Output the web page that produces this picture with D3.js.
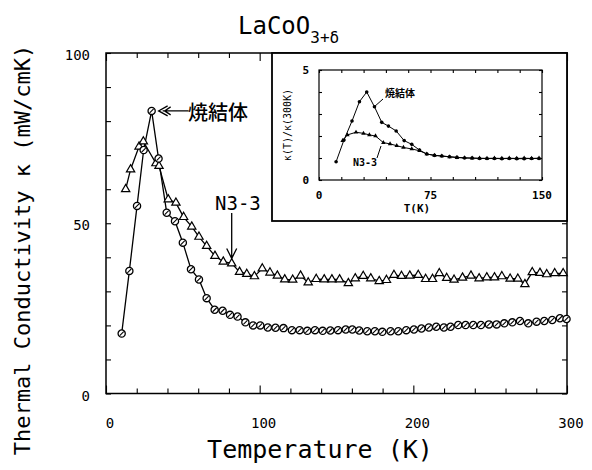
<!DOCTYPE html>
<html><head><meta charset="utf-8">
<script src="https://cdn.jsdelivr.net/npm/d3@7"></script>
<style>body{margin:0;background:#fff}svg{display:block}</style>
</head><body>
<script>
// ---- data ----
const sinterT = [10.2,15.2,20.2,24.5,29.7,34.2,39.5,44.9,50,55.3,60.5,65.5,70.7,75.9,80.7,85.6,90.7,95.7,100.4,105.3,110.3,115.5,121,126,131,136,141,146,151,156,160.3,164.8,170,175,179.8,185.2,190.2,195.4,200.4,205.3,210.1,214.9,219.9,224.2,229.2,234,239,244,249.2,254.2,259.2,264.4,269.4,274.8,280.2,285.2,290.4,295.4,299.7];
const sinterK = [17.6,36,55.1,71.5,83,69,53.1,50.6,44.3,36.5,33.5,28,24.6,24.3,23.1,22.6,20.9,20,20,19.4,19.3,19.2,18.6,18.6,18.4,18.6,18.4,18.5,18.6,18.8,18.8,18.5,18.3,18.3,18.1,18.3,18.3,18.6,18.8,19.1,19.4,19.6,19.4,19.6,20.1,20.1,20.1,20.1,20.3,20.3,20.6,20.9,21.3,20.6,21.1,21.3,21.6,22.1,21.9];
const n3T = [12.8,16,21.5,24.3,32.5,34.5,40.5,45.5,50.5,55.8,60.5,65.5,70.9,76.3,81.8,86.9,91.6,96.6,101.7,106.7,111.5,116.3,121.5,126.6,131.6,136.8,142,147,152,157.7,162.2,167.4,172.3,177.8,182.5,187.4,192.3,197.7,203.2,208,212.5,216.9,221.7,226.5,232,237.5,242.8,247.8,252.8,257.6,263,268,272.6,277.4,282.4,286.8,292,297.5];
const n3K = [60,65.8,72.5,74,67.6,66.8,57,56,51.8,49,46,43.3,40.4,38.7,38.2,35.7,35.1,34.4,36.7,35.5,34.6,33.5,33.4,34.6,32.6,33.6,33.5,33.5,33.5,32.4,33.8,34.5,33.8,33,33.3,34.8,34.5,34.6,34.8,33.6,33.6,35.3,33.9,33.4,34,34.6,33.8,34.1,34.1,34.4,33.7,33.7,32.1,35.6,35.4,35,35.3,35.3];
// inset (normalized to 300 K)
const inSinterT = [11.5,16.8,22.2,27.2,32.1,37.3,42.2,46.7,51.9,57.3,62.4,67.6,72.5,77.7,82.6,87.8,92.8,97.9,103,108,113,118,123,128,133,138,143,148];
const inSinterR = [0.83,1.82,2.68,3.56,4.0,3.33,2.62,2.45,2.23,1.79,1.62,1.36,1.18,1.12,1.09,1.06,1.03,1.0,1.0,0.98,0.98,0.98,0.97,0.98,0.97,0.97,0.98,0.98];
const inN3T = [15.9,19.1,24.9,29.9,33.9,38,43.3,47.8,52.3,56.8,62.4,67.6,72.5,77.7,82.6,87.8,92.8,97.9,103,108,113,118,123,128,133,138,143,148];
const inN3R = [1.79,2.05,2.17,2.12,2.05,2.0,1.70,1.64,1.56,1.48,1.41,1.33,1.18,1.12,1.09,1.05,1.02,1.01,0.99,0.99,0.98,0.99,0.98,0.99,0.98,0.99,0.98,0.99];
const xTicks = [0,100,200,300];
const yTicks = [0,50,100];
const insetXTicks = [0,75,150];
const insetYTicks = [0,5];
const seriesNames = ["焼結体","N3-3"];

const W=592,H=470;
const mono = "'DejaVu Sans Mono', 'Liberation Mono', monospace";
const cjk = "'Noto Sans CJK JP', 'Noto Sans CJK SC', sans-serif";
const svg = d3.select("body").append("svg").attr("width",W).attr("height",H);

const x = d3.scaleLinear().domain([0,300]).range([106,567]);
const y = d3.scaleLinear().domain([0,100]).range([393.5,53]);

// frame
svg.append("rect").attr("x",x(0)).attr("y",y(100)).attr("width",x(300)-x(0)).attr("height",y(0)-y(100))
  .attr("fill","none").attr("stroke","#000").attr("stroke-width",1.5);

// ticks
const tickX = d3.range(0,301,20), tickY = d3.range(0,101,10);
function axisTicks(g, axis){ g.call(axis); g.select(".domain").remove(); g.selectAll("text").remove(); g.selectAll("line").attr("stroke","#000").attr("stroke-width",1.1); }
svg.append("g").attr("transform",`translate(0,${y(0)})`).call(g=>axisTicks(g,d3.axisBottom(x).tickValues(tickX).tickSize(-5)))
  .selectAll("line").attr("y2",d=>d%100===0?-8:-5);
svg.append("g").attr("transform",`translate(0,${y(100)})`).call(g=>axisTicks(g,d3.axisTop(x).tickValues(tickX).tickSize(-5)))
  .selectAll("line").attr("y2",d=>d%100===0?8:5);
svg.append("g").attr("transform",`translate(${x(0)},0)`).call(g=>axisTicks(g,d3.axisLeft(y).tickValues(tickY).tickSize(-5)));
svg.append("g").attr("transform",`translate(${x(300)},0)`).call(g=>axisTicks(g,d3.axisRight(y).tickValues(tickY).tickSize(-5)));

// tick labels
svg.append("g").selectAll("text").data(xTicks).join("text")
  .attr("x",d=>x(d)+4).attr("y",428).attr("text-anchor","middle")
  .attr("font-family",mono).attr("font-size",14).text(d=>d);
svg.append("g").selectAll("text").data(yTicks).join("text")
  .attr("x",90).attr("y",d=>y(d)+7).attr("text-anchor","end")
  .attr("font-family",mono).attr("font-size",14).text(d=>d);

// axis titles
svg.append("text").attr("x",320).attr("y",458).attr("text-anchor","middle")
  .attr("font-family",mono).attr("font-size",25).text("Temperature (K)");
svg.append("text").attr("transform","translate(30,250) rotate(-90)").attr("text-anchor","middle")
  .attr("font-family",mono).attr("font-size",22).text("Thermal Conductivity κ (mW/cmK)");
const title = svg.append("text").attr("x",238).attr("y",34).attr("font-family",mono).attr("font-size",24);
title.append("tspan").text("LaCoO");
title.append("tspan").attr("dy",9).attr("font-size",16).text("3+δ");

// series
const line = d3.line().x(d=>x(d[0])).y(d=>y(d[1]));
const sData = sinterT.map((t,i)=>[t,sinterK[i]]);
const nData = n3T.map((t,i)=>[t,n3K[i]]);
svg.append("path").datum(nData).attr("d",line).attr("fill","none").attr("stroke","#000").attr("stroke-width",1.3);
svg.append("path").datum(sData).attr("d",line).attr("fill","none").attr("stroke","#000").attr("stroke-width",1.3);
const tri = d3.symbol().type(d3.symbolTriangle).size(30);
svg.append("g").selectAll("path").data(nData).join("path")
  .attr("transform",d=>`translate(${x(d[0])},${y(d[1])})`).attr("d",tri)
  .attr("fill","#fff").attr("stroke","#000").attr("stroke-width",1.2);
const cg = svg.append("g").selectAll("g").data(sData).join("g").attr("transform",d=>`translate(${x(d[0])},${y(d[1])})`);
cg.append("circle").attr("r",3.6).attr("fill","#fff").attr("stroke","#000").attr("stroke-width",1.3);
cg.append("line").attr("x1",-2).attr("y1",2).attr("x2",2).attr("y2",-2).attr("stroke","#000").attr("stroke-width",1.1);

// annotations main
const pk = [x(sinterT[4]), y(sinterK[4])];
const ax0 = pk[0]+7;
svg.append("path").attr("d",`M${ax0+9},${pk[1]-5}L${ax0},${pk[1]}L${ax0+9},${pk[1]+5}M${ax0+4},${pk[1]}L${ax0+30},${pk[1]}M${ax0+12},${pk[1]-4}L${ax0+6},${pk[1]}L${ax0+12},${pk[1]+4}`)
  .attr("fill","none").attr("stroke","#000").attr("stroke-width",1.3);
svg.append("text").attr("x",188).attr("y",120).attr("font-family",cjk).attr("font-size",20).attr("font-weight",500).text(seriesNames[0]);
svg.append("text").attr("x",215).attr("y",210).attr("font-family",mono).attr("font-size",19).text(seriesNames[1]);
const ah = [x(n3T[14]), y(n3K[14])-5];
svg.append("path").attr("d",`M${ah[0]},213L${ah[0]},${ah[1]}M${ah[0]-5},${ah[1]-10}L${ah[0]},${ah[1]}L${ah[0]+5},${ah[1]-10}`)
  .attr("fill","none").attr("stroke","#000").attr("stroke-width",1.3);

// ---- inset ----
svg.append("rect").attr("x",272).attr("y",53).attr("width",567-272).attr("height",221-53)
  .attr("fill","#fff").attr("stroke","#000").attr("stroke-width",1.8);
const ix = d3.scaleLinear().domain([0,150]).range([319,542]);
const iy = d3.scaleLinear().domain([0,5]).range([180,70]);
svg.append("rect").attr("x",ix(0)).attr("y",iy(5)).attr("width",ix(150)-ix(0)).attr("height",iy(0)-iy(5))
  .attr("fill","none").attr("stroke","#000").attr("stroke-width",1.2);
const itX = d3.range(0,151,15), itY = d3.range(0,6,1);
svg.append("g").attr("transform",`translate(0,${iy(0)})`).call(g=>axisTicks(g,d3.axisBottom(ix).tickValues(itX).tickSize(-3)));
svg.append("g").attr("transform",`translate(0,${iy(5)})`).call(g=>axisTicks(g,d3.axisTop(ix).tickValues(itX).tickSize(-3)));
svg.append("g").attr("transform",`translate(${ix(0)},0)`).call(g=>axisTicks(g,d3.axisLeft(iy).tickValues(itY).tickSize(-3)));
svg.append("g").attr("transform",`translate(${ix(150)},0)`).call(g=>axisTicks(g,d3.axisRight(iy).tickValues(itY).tickSize(-3)));
svg.selectAll("g").filter(function(){return false;});
svg.append("g").selectAll("text").data(insetXTicks).join("text")
  .attr("x",d=>ix(d)).attr("y",199).attr("text-anchor","middle")
  .attr("font-family",mono).attr("font-size",11).attr("font-weight","bold").text(d=>d);
svg.append("g").selectAll("text").data(insetYTicks).join("text")
  .attr("x",309).attr("y",d=>iy(d)+4).attr("text-anchor","end")
  .attr("font-family",mono).attr("font-size",11).attr("font-weight","bold").text(d=>d);
svg.append("text").attr("x",417).attr("y",212).attr("text-anchor","middle")
  .attr("font-family",mono).attr("font-size",11).attr("font-weight","bold").text("T(K)");
svg.append("text").attr("transform","translate(291,125) rotate(-90)").attr("text-anchor","middle")
  .attr("font-family",mono).attr("font-size",10).text("κ(T)/κ(300K)");
const iline = d3.line().x(d=>ix(d[0])).y(d=>iy(d[1]));
const isD = inSinterT.map((t,i)=>[t,inSinterR[i]]);
const inD = inN3T.map((t,i)=>[t,inN3R[i]]);
svg.append("path").datum(isD).attr("d",iline).attr("fill","none").attr("stroke","#000").attr("stroke-width",1);
svg.append("path").datum(inD).attr("d",iline).attr("fill","none").attr("stroke","#000").attr("stroke-width",1);
svg.append("g").selectAll("circle").data(isD).join("circle").attr("cx",d=>ix(d[0])).attr("cy",d=>iy(d[1])).attr("r",1.8)
  .attr("fill","#000");
svg.append("g").selectAll("path").data(inD).join("path").attr("transform",d=>`translate(${ix(d[0])},${iy(d[1])})`)
  .attr("d",d3.symbol().type(d3.symbolTriangle).size(9)).attr("fill","#000");
svg.append("text").attr("x",385).attr("y",97).attr("font-family",cjk).attr("font-size",10).attr("font-weight","bold").text(seriesNames[0]);
svg.append("line").attr("x1",383).attr("y1",99).attr("x2",374).attr("y2",107).attr("stroke","#000").attr("stroke-width",1);
svg.append("text").attr("x",353).attr("y",166).attr("font-family",mono).attr("font-size",10).attr("font-weight","bold").text(seriesNames[1]);
svg.append("line").attr("x1",381).attr("y1",146).attr("x2",377).attr("y2",158).attr("stroke","#000").attr("stroke-width",1);
</script>
</body></html>
